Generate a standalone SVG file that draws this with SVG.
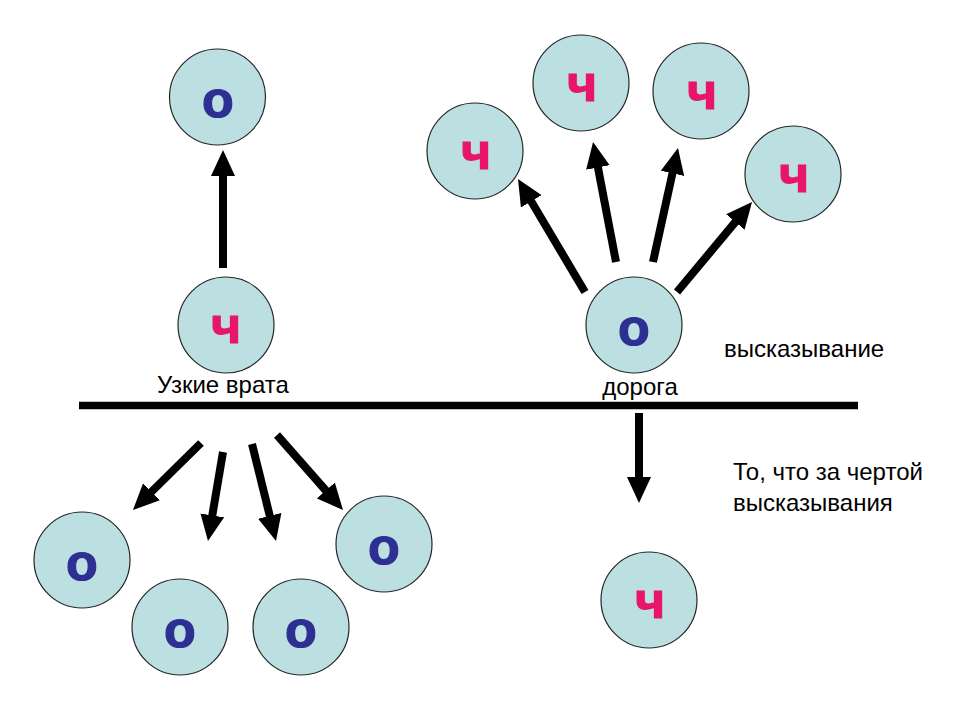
<svg xmlns="http://www.w3.org/2000/svg" width="960" height="720" viewBox="0 0 960 720">
  <style>
    .node circle { fill: #BCDFE2; stroke: #262626; stroke-width: 1.2; }
    .ch { fill: #E8156B; stroke: #E8156B; stroke-width: 1.2; font-family: "Liberation Sans", Arial, sans-serif; font-weight: bold; font-size: 52px; text-anchor: middle; }
    .o { fill: #2D3092; stroke: #2D3092; stroke-width: 1.2; font-family: "Liberation Sans", Arial, sans-serif; font-weight: bold; font-size: 52px; text-anchor: middle; }
    .lbl { fill: #000; font-family: "Liberation Sans", Arial, sans-serif; font-size: 24px; }
    .arrow { stroke: #000; stroke-width: 8; fill: none; marker-end: url(#ah); }
  </style>
  <defs>
    <marker id="ah" markerUnits="userSpaceOnUse" markerWidth="26" markerHeight="24" refX="6" refY="12" orient="auto" viewBox="0 0 26 24">
      <path d="M0,0 L26,12 L0,24 z" fill="#000"/>
    </marker>
  </defs>
  <rect width="960" height="720" fill="#fff"/>

  <g id="connectors">
    <line x1="79" y1="405.5" x2="858" y2="405.5" stroke="#000" stroke-width="7.5"/>
    <line class="arrow" x1="223" y1="268" x2="223" y2="170"/>
    <line class="arrow" x1="585" y1="292" x2="528.2" y2="196.2"/>
    <line class="arrow" x1="616" y1="262" x2="596.8" y2="161.6"/>
    <line class="arrow" x1="653" y1="262" x2="673.7" y2="167.5"/>
    <line class="arrow" x1="677" y1="292" x2="739.2" y2="217.4"/>
    <line class="arrow" x1="639" y1="413" x2="639" y2="483"/>
    <line class="arrow" x1="201" y1="443" x2="147.2" y2="496"/>
    <line class="arrow" x1="223" y1="452" x2="211.3" y2="521.3"/>
    <line class="arrow" x1="252" y1="444" x2="271.2" y2="521.6"/>
    <line class="arrow" x1="277" y1="435" x2="329.8" y2="495"/>
  </g>

  <g id="node-top-o" class="node"><circle cx="217.5" cy="97" r="48"/><text class="o" x="218" y="117">о</text></g>
  <g id="node-left-ch" class="node"><circle cx="226" cy="325" r="48"/><text class="ch" x="226" y="343">ч</text></g>
  <g id="node-r-ch1" class="node"><circle cx="475" cy="151" r="48"/><text class="ch" x="476" y="169">ч</text></g>
  <g id="node-r-ch2" class="node"><circle cx="581" cy="83" r="48"/><text class="ch" x="582" y="101">ч</text></g>
  <g id="node-r-ch3" class="node"><circle cx="701" cy="91" r="48"/><text class="ch" x="702" y="109">ч</text></g>
  <g id="node-r-ch4" class="node"><circle cx="793" cy="174" r="48"/><text class="ch" x="794" y="192">ч</text></g>
  <g id="node-right-o" class="node"><circle cx="634" cy="325" r="48"/><text class="o" x="634" y="345">о</text></g>
  <g id="node-bottom-ch" class="node"><circle cx="649" cy="600" r="48"/><text class="ch" x="650" y="618">ч</text></g>
  <g id="node-b-o1" class="node"><circle cx="82" cy="560" r="48"/><text class="o" x="82" y="580">о</text></g>
  <g id="node-b-o2" class="node"><circle cx="180" cy="627" r="48"/><text class="o" x="180" y="647">о</text></g>
  <g id="node-b-o3" class="node"><circle cx="301" cy="627" r="48"/><text class="o" x="301" y="647">о</text></g>
  <g id="node-b-o4" class="node"><circle cx="384" cy="544" r="48"/><text class="o" x="384" y="564">о</text></g>

  <g id="labels">
    <text class="lbl" x="157" y="393">Узкие врата</text>
    <text class="lbl" x="640" y="395" text-anchor="middle">дорога</text>
    <text class="lbl" x="724" y="357">высказывание</text>
    <text class="lbl" x="733" y="480">То, что за чертой</text>
    <text class="lbl" x="733" y="511">высказывания</text>
  </g>
</svg>
